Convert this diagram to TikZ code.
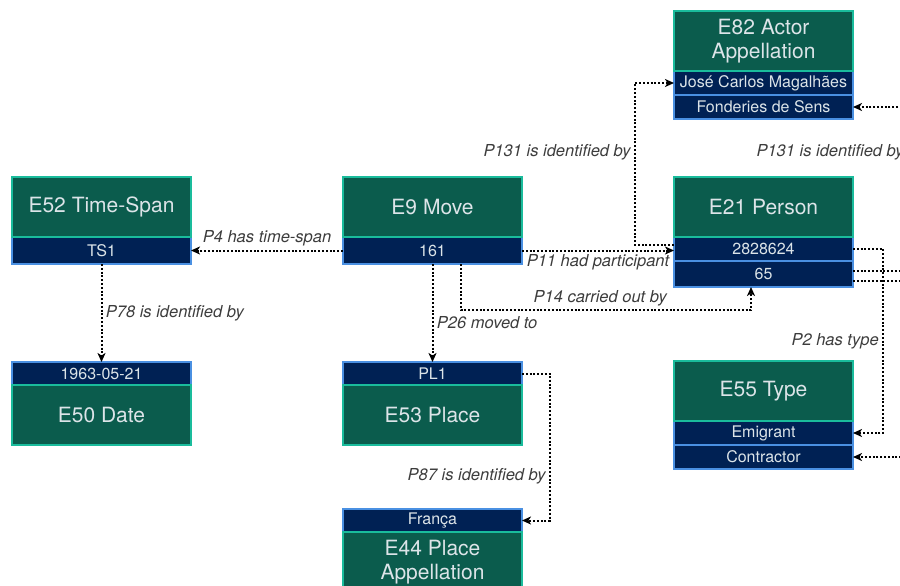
\documentclass[tikz,border=0pt]{standalone}
\usepackage{fontspec}
\setmainfont{TeX Gyre Heros}
\usetikzlibrary{arrows.meta,positioning,backgrounds}
\definecolor{crmgreen}{HTML}{0B5C4D}
\definecolor{crmteal}{HTML}{1ABC9C}
\definecolor{crmnavy}{HTML}{002154}
\definecolor{crmblue}{HTML}{4A90E2}
\definecolor{crmtext}{HTML}{DCE4E8}
\definecolor{lblgray}{HTML}{3C3C3C}

\begin{document}
\begin{tikzpicture}[x=1pt,y=-1pt,
  cls/.style={rectangle,draw=crmteal,fill=crmgreen,line width=1.5pt,minimum width=179pt,minimum height=60pt,inner sep=0pt,outer sep=0pt,text=crmtext,font=\fontsize{21}{24}\selectfont,align=center,anchor=north west},
  val/.style={rectangle,draw=crmblue,fill=crmnavy,line width=1.5pt,minimum width=179pt,minimum height=24pt,inner sep=0pt,outer sep=0pt,text=crmtext,font=\fontsize{16}{18}\selectfont},
  lbl/.style={font=\fontsize{16.5}{18}\selectfont\itshape,text=lblgray},
  dotline/.style={black,line width=2pt,dash pattern=on 2pt off 1.8pt},
  link/.style={dotline,-{Stealth[length=9pt,width=8pt,inset=2.5pt]}}]
\useasboundingbox (0,0) rectangle (900,586);
\clip (0,0) rectangle (900,586);
\node[cls] (e82) at (674,11) {E82 Actor\\Appellation};
\node[cls] (e52) at (12,177) {E52 Time-Span};
\node[cls] (e9) at (343,177) {E9 Move};
\node[cls] (e21) at (674,177) {E21 Person};
\node[cls] (e55) at (674,361) {E55 Type};
\node[cls] (e50) at (12,385) {E50 Date};
\node[cls] (e53) at (343,385) {E53 Place};
\node[cls] (e44) at (343,532) {E44 Place\\Appellation};
\begin{scope}[on background layer]
\node[val,below=0pt of e82] (e82a) {José Carlos Magalhães};
\node[val,below=0pt of e82a] (e82b) {Fonderies de Sens};
\node[val,below=0pt of e52,minimum height=27pt] (e52v) {TS1};
\node[val,below=0pt of e9,minimum height=27pt] (e9v) {161};
\node[val,below=0pt of e21] (e21a) {2828624};
\node[val,below=0pt of e21a,minimum height=26pt] (e21b) {65};
\node[val,below=0pt of e55] (e55a) {Emigrant};
\node[val,below=0pt of e55a] (e55b) {Contractor};
\node[val,above=0pt of e50,minimum height=23pt] (e50v) {1963-05-21};
\node[val,above=0pt of e53,minimum height=23pt] (e53v) {PL1};
\node[val,above=0pt of e44,minimum height=23pt] (e44v) {França};
\end{scope}
\coordinate (off82) at (908,230);
\coordinate (offa) at (905,271);
\coordinate (offb) at (905,281);
\coordinate (off55) at (905,457);
\draw[link] (e9v.west) -- (e52v.east) node[midway,above,lbl]{P4 has time-span};
\draw[link] (e52v.south) -- (e50v.north) node[midway,right,lbl]{P78 is identified by};
\draw[link] (e9v.east) -- (e9v.east -| e21a.west) node[midway,below,lbl]{P11 had participant};
\draw[link] ([xshift=28.5pt]e9v.south) -- ++(0,46) -| ([xshift=-12.5pt]e21b.south) node[pos=0.24,above,lbl]{P14 carried out by};
\draw[link] (e9v.south) -- (e53v.north) node[pos=0.6,right,lbl]{P26 moved to};
\draw[link] (e53v.east) -- ++(28,0) |- (e44v.east) node[pos=0.35,left,lbl]{P87 is identified by};
\draw[link] ([yshift=4pt]e21a.west) -- ++(-39,0) |- (e82a.west) node[pos=0.285,left,lbl]{P131 is identified by};
\draw[link] (off82) |- (e82b.east) node[pos=0.317,left,lbl]{P131 is identified by};
\draw[link] (e21a.east) -- ++(30,0) |- (e55a.east) node[pos=0.25,left,lbl]{P2 has type};
\draw[dotline] (e21b.east |- offa) -- (offa);
\draw[dotline] (e21b.east |- offb) -- (offb);
\draw[link] (off55) -- (e55b.east);
\end{tikzpicture}
\end{document}
